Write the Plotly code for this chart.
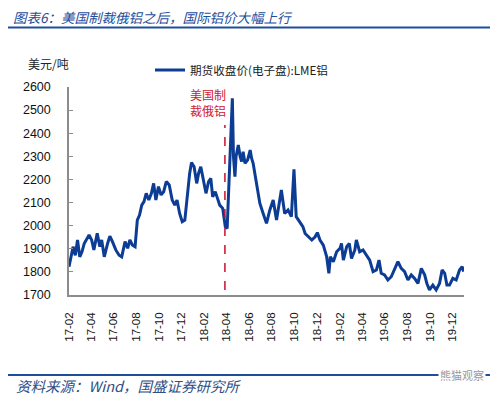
import plotly.graph_objects as go

# ---- data ----
dates = [
    "2017-02-01", "2017-02-06", "2017-02-12", "2017-02-18", "2017-02-24", "2017-03-02",
    "2017-03-08", "2017-03-14", "2017-03-20", "2017-03-27", "2017-04-03", "2017-04-09",
    "2017-04-18", "2017-04-25", "2017-04-30", "2017-05-07", "2017-05-16", "2017-05-22",
    "2017-05-29", "2017-06-07", "2017-06-16", "2017-06-23", "2017-07-02", "2017-07-09",
    "2017-07-15", "2017-07-22", "2017-07-29", "2017-08-04", "2017-08-10", "2017-08-16",
    "2017-08-22", "2017-08-28", "2017-09-04", "2017-09-11", "2017-09-17", "2017-09-23",
    "2017-09-30", "2017-10-07", "2017-10-14", "2017-10-21", "2017-10-29", "2017-11-06",
    "2017-11-13", "2017-11-19", "2017-11-26", "2017-12-03", "2017-12-10", "2017-12-16",
    "2017-12-23", "2017-12-28", "2018-01-04", "2018-01-11", "2018-01-16", "2018-01-22",
    "2018-01-28", "2018-02-05", "2018-02-12", "2018-02-18", "2018-02-23", "2018-03-02",
    "2018-03-08", "2018-03-14", "2018-03-22", "2018-03-29", "2018-04-03", "2018-04-09",
    "2018-04-13", "2018-04-17", "2018-04-20", "2018-04-24", "2018-04-27", "2018-05-03",
    "2018-05-08", "2018-05-12", "2018-05-16", "2018-05-21", "2018-05-28", "2018-06-04",
    "2018-06-08", "2018-06-12", "2018-06-21", "2018-06-30", "2018-07-09", "2018-07-18",
    "2018-07-27", "2018-08-05", "2018-08-14", "2018-08-27", "2018-09-05", "2018-09-14",
    "2018-09-23", "2018-09-30", "2018-10-06", "2018-10-15", "2018-10-24", "2018-10-30",
    "2018-11-08", "2018-11-17", "2018-11-26", "2018-12-02", "2018-12-09", "2018-12-18",
    "2018-12-27", "2019-01-02", "2019-01-06", "2019-01-14", "2019-01-23", "2019-02-01",
    "2019-02-05", "2019-02-10", "2019-02-19", "2019-02-26", "2019-03-04", "2019-03-13",
    "2019-03-17", "2019-03-26", "2019-04-04", "2019-04-13", "2019-04-22", "2019-05-01",
    "2019-05-10", "2019-05-17", "2019-05-23", "2019-06-01", "2019-06-10", "2019-06-19",
    "2019-06-28", "2019-07-07", "2019-07-16", "2019-07-25", "2019-08-03", "2019-08-12",
    "2019-08-21", "2019-08-30", "2019-09-08", "2019-09-17", "2019-09-23", "2019-09-30",
    "2019-10-09", "2019-10-18", "2019-10-27", "2019-11-03", "2019-11-10", "2019-11-16",
    "2019-11-23", "2019-12-02", "2019-12-11", "2019-12-20", "2019-12-27", "2019-12-31",
]
lme_aluminium = [
    1822, 1865, 1909, 1872, 1938, 1865,
    1887, 1923, 1938, 1960, 1938, 1895,
    1967, 1909, 1938, 1865, 1923, 1955,
    1931, 1895, 1872, 1865, 1931, 1902,
    1938, 1916, 1909, 2024, 2046, 2089,
    2104, 2140, 2111, 2140, 2183, 2111,
    2169, 2133, 2147, 2191, 2176, 2111,
    2089, 2111, 2053, 2017, 2024, 2125,
    2226, 2273, 2255, 2183, 2226, 2255,
    2212, 2140, 2191, 2205, 2125, 2147,
    2118, 2089, 2075, 1996, 1988, 2200,
    2400, 2551, 2300, 2212, 2300, 2349,
    2299, 2277, 2320, 2270, 2284, 2327,
    2291, 2270, 2183, 2097, 2053, 2010,
    2068, 2111, 2024, 2154, 2053, 2068,
    2039, 2244, 2039, 2017, 1996, 1966,
    1952, 1938, 1952, 1970, 1938, 1916,
    1866, 1794, 1866, 1844, 1887, 1902,
    1923, 1851, 1909, 1923, 1858, 1895,
    1938, 1887, 1895, 1873, 1851, 1801,
    1808, 1851, 1794, 1787, 1765, 1779,
    1808, 1844, 1815, 1801, 1765, 1787,
    1772, 1750, 1815, 1787, 1750, 1722,
    1743, 1722, 1750, 1808, 1794, 1743,
    1743, 1772, 1765, 1808, 1823, 1801,
]

tick_dates = [
    "2017-02-01", "2017-04-01", "2017-06-01", "2017-08-01", "2017-10-01", "2017-12-01",
    "2018-02-01", "2018-04-01", "2018-06-01", "2018-08-01", "2018-10-01", "2018-12-01",
    "2019-02-01", "2019-04-01", "2019-06-01", "2019-08-01", "2019-10-01", "2019-12-01",
]
tick_labels = [
    "17-02", "17-04", "17-06", "17-08", "17-10", "17-12",
    "18-02", "18-04", "18-06", "18-08", "18-10", "18-12",
    "19-02", "19-04", "19-06", "19-08", "19-10", "19-12",
]
series_name = "期货收盘价(电子盘):LME铝"
event_date = "2018-03-28"
event_top = 2436
event_bottom = 1722

CJK = "Noto Sans CJK SC"
LAT = "Liberation Sans"

# plot-area geometry (reference pixels); the page adds an 8px body margin
OFF = 8
L, R, T, B = 69, 464, 87, 295
W, H = R - L, B - T


def px(x):
    return (x - L) / W


def py(y):
    return (B - y) / H


fig = go.Figure()
fig.add_trace(go.Scatter(
    x=dates, y=lme_aluminium, mode="lines", name=series_name,
    line=dict(color="#0C3C93", width=3),
))

# red dashed event line
fig.add_shape(type="line", xref="x", yref="y",
              x0=event_date, x1=event_date, y0=event_bottom, y1=event_top,
              line=dict(color="#C8102E", width=1.5, dash="dash"))

fig.add_annotation(xref="paper", yref="paper", x=px(208), y=py(103),
                   text="美国制<br>裁俄铝", showarrow=False,
                   font=dict(family=CJK, size=12, color="#D0202A"),
                   xanchor="center", yanchor="middle", align="center")

# y axis unit
fig.add_annotation(xref="paper", yref="paper", x=px(26), y=py(64),
                   text="美元/吨", showarrow=False, xanchor="left", yanchor="middle",
                   font=dict(family=CJK, size=12, color="#222222"))

# header and footer
fig.add_annotation(xref="paper", yref="paper", x=px(11), y=py(17),
                   text="<i>图表6：美国制裁俄铝之后，国际铝价大幅上行</i>", showarrow=False,
                   xanchor="left", yanchor="middle",
                   font=dict(family=CJK, size=13.5, color="#1F4E9B"))
fig.add_annotation(xref="paper", yref="paper", x=px(14), y=py(385),
                   text="<i>资料来源：Wind，国盛证券研究所</i>", showarrow=False,
                   xanchor="left", yanchor="middle",
                   font=dict(family=CJK, size=14.5, color="#2E4E86"))
fig.add_shape(type="line", xref="paper", yref="paper",
              x0=px(5), x1=px(490), y0=py(27.5), y1=py(27.5),
              line=dict(color="#1F4E9B", width=2))
fig.add_shape(type="line", xref="paper", yref="paper",
              x0=px(5), x1=px(490), y0=py(375), y1=py(375),
              line=dict(color="#1F4E9B", width=2))
fig.add_annotation(xref="paper", yref="paper", x=px(462), y=py(375),
                   text="熊猫观察", showarrow=False, xanchor="center", yanchor="middle",
                   bgcolor="white", font=dict(family=CJK, size=11, color="#9A9A9A"))

fig.update_layout(
    width=499, height=399,
    margin=dict(l=L - OFF, r=499 - (R - OFF), t=T - OFF, b=399 - (B - OFF), autoexpand=False),
    paper_bgcolor="white", plot_bgcolor="white",
    showlegend=True,
    legend=dict(x=px(150), y=py(70),
                xanchor="left", yanchor="middle", bgcolor="rgba(0,0,0,0)",
                font=dict(family=CJK, size=11.6, color="#222222"),
                itemwidth=30, tracegroupgap=0),
    font=dict(family=LAT, size=12, color="#111111"),
)
fig.update_xaxes(
    type="date", range=["2017-02-01", "2020-01-01"],
    tickvals=tick_dates, ticktext=tick_labels, tickangle=-90,
    showline=True, linecolor="#8C8C8C", linewidth=1.5,
    ticks="", showgrid=False, zeroline=False,
    tickfont=dict(family=LAT, size=11.5, color="#111111"),
    ticklabelstandoff=11,
)
fig.update_yaxes(
    range=[1700, 2600], dtick=100, tick0=1700,
    showline=True, linecolor="#8C8C8C", linewidth=1.5,
    ticks="inside", ticklen=4, tickcolor="#8C8C8C", tickwidth=1.2,
    showgrid=False, zeroline=False,
    tickfont=dict(family=LAT, size=12.5, color="#111111"),
    ticklabelstandoff=14,
)

fig.write_html("out.html")
